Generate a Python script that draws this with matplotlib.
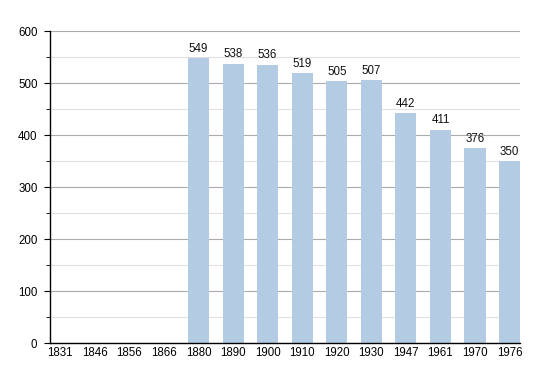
import matplotlib.pyplot as plt
import numpy as np
from matplotlib.ticker import MultipleLocator

years = ["1831", "1846", "1856", "1866", "1880", "1890", "1900",
         "1910", "1920", "1930", "1947", "1961", "1970", "1976"]
population = [None, None, None, None, 549, 538, 536,
              519, 505, 507, 442, 411, 376, 350]

plt.rcParams["font.family"] = ["Liberation Sans", "DejaVu Sans"]

fig = plt.figure(figsize=(5.5, 3.73), dpi=100)
ax = fig.add_axes([0.0909, 0.0796, 0.8545, 0.8366])

x = np.arange(len(years))
for i, v in enumerate(population):
    if v is None:
        continue
    ax.bar(i, v, width=0.61, color="#b3cce4", zorder=2)
    ax.text(i, v + 6, str(v), ha="center", va="bottom", fontsize=8.3, color="#111111")

ax.set_xlim(-0.298, 13.30)
ax.set_ylim(0, 600)
ax.set_xticks(x)
ax.set_xticklabels(years)
ax.yaxis.set_major_locator(MultipleLocator(100))
ax.yaxis.set_minor_locator(MultipleLocator(50))

ax.grid(axis="y", which="major", color="#ababab", linewidth=0.8, zorder=0)
ax.grid(axis="y", which="minor", color="#e0e0e0", linewidth=0.8, zorder=0)
ax.set_axisbelow(True)

ax.spines["top"].set_visible(False)
ax.spines["right"].set_visible(False)
ax.spines["left"].set_linewidth(1.0)
ax.spines["bottom"].set_linewidth(1.0)

ax.tick_params(axis="x", length=0, labelsize=8.3, pad=3)
ax.tick_params(axis="y", which="major", length=4, labelsize=8.3, pad=5)
ax.tick_params(axis="y", which="minor", length=3)

fig.savefig("out.png", dpi=100)
